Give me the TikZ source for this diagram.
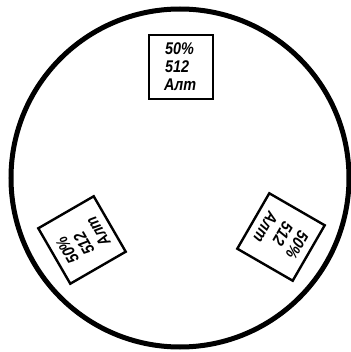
\documentclass[tikz,border=0pt]{standalone}
\usepackage{fontspec}
\setmainfont{Liberation Sans}
\usetikzlibrary{calc}
\begin{document}
\begin{tikzpicture}[x=1bp,y=1bp,
  lab/.style={draw, line width=2.4bp, minimum width=64bp, minimum height=64bp,
    inner sep=0pt, text width=38bp, align=left,
    font=\bfseries\itshape\fontsize{17}{18}\selectfont},
  rimstyle/.style={draw, circle, line width=5bp, minimum size=338bp, inner sep=0pt}]
\useasboundingbox (0,0) rectangle (351,352);
\coordinate (O) at (180,174);
\node[rimstyle] (rim) at (O) {};
\foreach \a/\n/\p in {0/ltop/{(181,285)},120/lleft/{(82,112)},240/lright/{(281,115)}}
  \node[lab, rotate=\a] (\n) at \p
    {\hspace*{3bp}\scalebox{0.85}[1]{50\%}\\\hspace*{3bp}\scalebox{0.85}[1]{512}\\\hspace*{2bp}\scalebox{0.85}[1]{Алт}};
\end{tikzpicture}
\end{document}
